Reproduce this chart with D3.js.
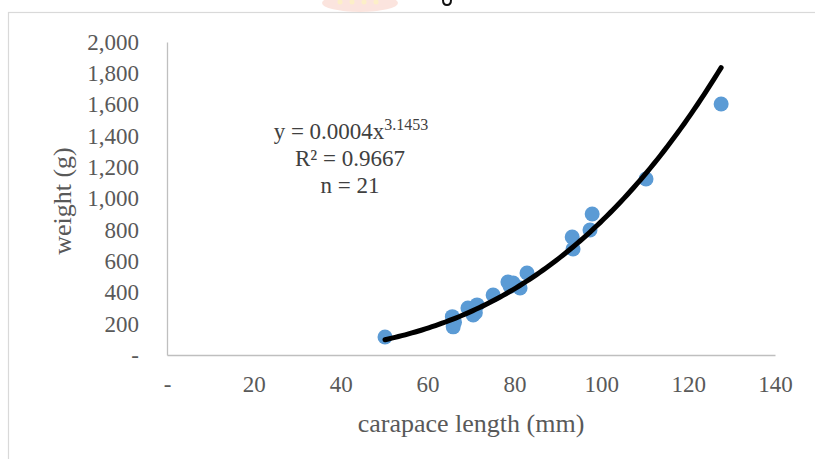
<!DOCTYPE html>
<html><head><meta charset="utf-8">
<script src="https://cdn.jsdelivr.net/npm/d3@7"></script>
<style>body{margin:0;background:#fff}svg{display:block}</style>
</head><body>
<script>
// Data
const carapaceLength = [50.2, 65.7, 65.9, 66.2, 69.3, 70.0, 70.5, 71.0, 71.4, 75.1, 78.5, 79.0, 79.7, 81.3, 82.9, 93.3, 93.5, 97.4, 97.9, 110.3, 127.6];
const weight =         [115, 245, 180, 210, 300, 290, 256, 270, 320, 383, 466, 440, 460, 428, 524, 754, 677, 799, 901, 1125, 1604];
const xTicks = [0, 20, 40, 60, 80, 100, 120, 140];
const yTicks = [0, 200, 400, 600, 800, 1000, 1200, 1400, 1600, 1800, 2000];
const trendA = 0.000437, trendB = 3.1453; // power trendline (shown rounded)
const eqLines = ["R² = 0.9667", "n = 21"];

const W = 815, H = 459;
const svg = d3.select("body").append("svg").attr("width", W).attr("height", H);

// chart border
svg.append("rect").attr("x", 8.5).attr("y", 12.5).attr("width", 1000).attr("height", 1000)
  .attr("fill", "none").attr("stroke", "#d9d9d9").attr("stroke-width", 1.2);

// watermark fragment at top (cropped page content)
svg.append("ellipse").attr("cx", 360).attr("cy", 3).attr("rx", 38).attr("ry", 9).attr("fill", "#fbe4de");
[340, 352, 364, 376].forEach(cx => svg.append("circle").attr("cx", cx).attr("cy", 2).attr("r", 2.5).attr("fill", "#fcefc8"));
svg.append("path").attr("d", "M443,0 Q443,5 447,5 Q451,5 451,0").attr("fill", "none").attr("stroke", "#111").attr("stroke-width", 2);

const x = d3.scaleLinear().domain([0, 140]).range([167, 775]);
const y = d3.scaleLinear().domain([0, 2000]).range([355, 42]);

const fmt = d => d === 0 ? "-" : d3.format(",")(d);
const serif = "'Liberation Serif', 'Times New Roman', serif";

// axes
const gx = svg.append("g").attr("transform", `translate(0,${y(0)})`)
  .call(d3.axisBottom(x).tickValues(xTicks).tickFormat(fmt).tickSize(0).tickPadding(25));
const gy = svg.append("g").attr("transform", `translate(${x(0)},0)`)
  .call(d3.axisLeft(y).tickValues(yTicks).tickFormat(fmt).tickSize(0).tickPadding(28));
[gx, gy].forEach(g => {
  g.select(".domain").attr("stroke", "#bfbfbf").attr("stroke-width", 1.3);
  g.selectAll("text").attr("font-family", serif).attr("font-size", 23).attr("fill", "#595959");
});
gx.selectAll("text").attr("dy", "0.5em");

// axis titles
svg.append("text").attr("x", 471).attr("y", 432).attr("text-anchor", "middle")
  .attr("font-family", serif).attr("font-size", 26).attr("fill", "#595959").text("carapace length (mm)");
svg.append("text").attr("transform", "translate(71,201) rotate(-90)").attr("text-anchor", "middle")
  .attr("font-family", serif).attr("font-size", 26).attr("fill", "#595959").text("weight (g)");

// points
const pts = carapaceLength.map((c, i) => ({c, w: weight[i]}));
svg.append("g").selectAll("circle").data(pts).join("circle")
  .attr("cx", d => x(d.c)).attr("cy", d => y(d.w)).attr("r", 7.5).attr("fill", "#5b9bd5");

// trendline
const x0 = d3.min(carapaceLength), x1 = d3.max(carapaceLength);
const tr = d3.range(0, 101).map(i => x0 + (x1 - x0) * i / 100);
svg.append("path").datum(tr)
  .attr("d", d3.line().x(d => x(d)).y(d => y(trendA * Math.pow(d, trendB))))
  .attr("fill", "none").attr("stroke", "#000").attr("stroke-width", 5).attr("stroke-linecap", "round");

// equation
const eq = svg.append("text").attr("x", 351).attr("y", 139).attr("text-anchor", "middle")
  .attr("font-family", serif).attr("font-size", 23).attr("fill", "#404040");
eq.append("tspan").text("y = 0.0004x");
eq.append("tspan").attr("dy", -9).attr("font-size", 16).text(trendB.toFixed(4));
eqLines.forEach((t, i) => {
  svg.append("text").attr("x", 350).attr("y", 166 + i * 26.5).attr("text-anchor", "middle")
    .attr("font-family", serif).attr("font-size", 23).attr("fill", "#404040").text(t);
});
</script>
</body></html>
